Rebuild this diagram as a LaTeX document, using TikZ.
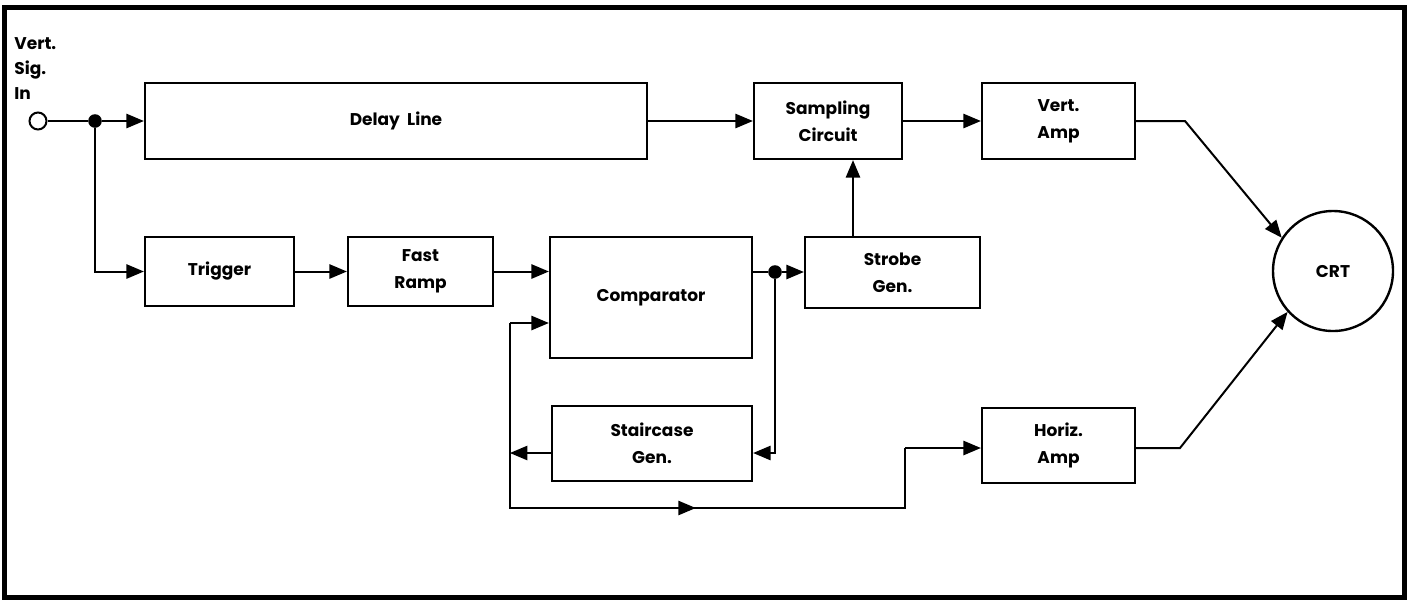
\documentclass[tikz,border=0pt]{standalone}
\usepackage{fontspec}
\setmainfont{Poppins}
\usetikzlibrary{shapes.geometric, arrows}
\usetikzlibrary{calc}

\tikzset{
	blk/.style={draw,line width=1.2pt,font=\bfseries\fontsize{8.5}{13.5}\selectfont,align=center,inner sep=0pt},
	arr/.style={line width=1pt,-triangle 45},
	wire/.style={line width=1pt},
	dot/.style={circle,fill,inner sep=0pt,minimum size=6.8pt},
	midarr/.style={sloped,allow upside down,inner sep=0pt},
}

\begin{document}
\begin{tikzpicture}[x=0.5pt,y=-0.5pt]
			\useasboundingbox (0,0) rectangle (1408,601);
			\draw[line width=2.5pt] (4.5,7.5) rectangle (1404,597);
			
			%entrada
			\node[font=\bfseries\fontsize{8.5}{12.5}\selectfont,align=left,anchor=north west,inner sep=0pt] (vlbl) at (14,37) {Vert.\\Sig.\\In};
			\node[draw,circle,fill=white,line width=1pt,inner sep=0pt,minimum size=8.5pt] (vin) at (38,121) {};
			\node[dot] (j1) at (95,121) {};
			
			%fila superior
			\node[blk,minimum width=251pt,minimum height=38pt] (delay) at (396,121) {Delay\ \ Line};
			\node[blk,minimum width=74pt,minimum height=38pt] (samp) at (828,121) {Sampling\\Circuit};
			\node[blk,minimum width=76.5pt,minimum height=38pt] (vamp) at (1058.5,121) {Vert.\\Amp};
			
			%fila central
			\node[blk,minimum width=74.5pt,minimum height=34.5pt] (trig) at (219.5,271.5) {Trigger};
			\node[blk,minimum width=72.5pt,minimum height=34.5pt] (ramp) at (420.5,271.5) {Fast\\Ramp};
			\node[blk,minimum width=101pt,minimum height=60.5pt] (comp) at (651,297.5) {Comparator};
			\node[blk,minimum width=87.5pt,minimum height=35.5pt] (strobe) at (892.5,272.5) {Strobe\\Gen.};
			\node[blk,circle,minimum size=60pt] (crt) at (1333,271) {CRT};
			\node[dot] (j2) at (775,272) {};
			
			%fila inferior
			\node[blk,minimum width=100pt,minimum height=37.5pt] (stair) at (652,443.5) {Staircase\\Gen.};
			\node[blk,minimum width=76.5pt,minimum height=37.5pt] (hamp) at (1058.5,445.5) {Horiz.\\Amp};
			
			\coordinate (sIn) at (775,453);
			\coordinate (lpTop) at (510,323);
			\coordinate (lpBot) at (510,508);
			\coordinate (hIn) at (905,448);
			\coordinate (stb) at (853,0);
			\coordinate (vBend) at (1185,121);
			\coordinate (hBend) at (1180,448);
			
			%conexiones
			\draw[wire] (vin) -- (j1);
			\draw[arr] (j1) -- (delay);
			\draw[arr] (j1) |- (trig);
			\draw[arr] (trig) -- (ramp);
			\draw[arr] (ramp.east) -- (ramp.east -| comp.west);
			\draw[arr] (delay) -- (samp);
			\draw[arr] (samp) -- (vamp);
			\draw[wire] (comp.east |- j2) -- (j2);
			\draw[arr] (j2) -- (j2 -| strobe.west);
			\draw[arr] (stb |- strobe.north) -- (stb |- samp.south);
			\draw[arr] (j2) -- (sIn) -- (sIn -| stair.east);
			\draw[arr] (sIn -| stair.west) -- (sIn -| lpTop);
			\draw[arr] (lpTop) -- (lpTop -| comp.west);
			\draw[wire] (lpTop) -- (lpBot) -- node[midarr,pos=.47] {\tikz \draw[line width=1pt,-triangle 45] (0,0) -- +(.1,0);} (lpBot -| hIn) -- (hIn);
			\draw[arr] (hIn) -- (hIn -| hamp.west);
			
			%al tubo
			\draw[arr] (vamp) -- (vBend) -- (crt.147);
			\draw[arr] (hamp.east |- hBend) -- (hBend) -- (crt.222);
	\end{tikzpicture}
\end{document}
